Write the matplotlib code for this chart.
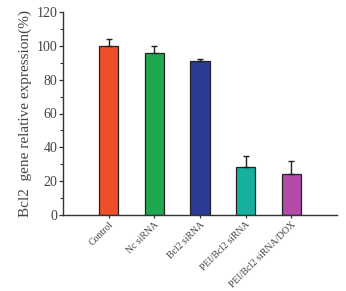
import matplotlib
matplotlib.use("Agg")
import matplotlib.pyplot as plt
from matplotlib.ticker import MultipleLocator

categories = ["Control", "Nc siRNA", "Bcl2 siRNA", "PEI/Bcl2 siRNA", "PEI/Bcl2 siRNA/DOX"]
values = [100, 96, 91, 28.5, 24.3]
errors = [4, 4, 1.5, 6.5, 7.5]
colors = ["#EE4F2A", "#1FA84F", "#2B3A92", "#16AFA0", "#B24BA8"]
yticks = [0, 20, 40, 60, 80, 100, 120]

plt.rcParams['font.family'] = ['Liberation Serif', 'DejaVu Serif']

fig = plt.figure(figsize=(3.46, 2.91), dpi=100)
ax = fig.add_axes([63/346, 1 - 215/291, (337-63)/346, (215-12)/291])

pos = list(range(1, len(categories) + 1))
ax.bar(pos, values, width=0.42, color=colors, edgecolor="#222222", linewidth=0.9, zorder=2)
ax.errorbar(pos, values, yerr=[[0]*len(errors), errors], fmt="none", ecolor="#222222",
            elinewidth=1.0, capsize=2.5, capthick=1.0, zorder=3)

ax.set_xlim(0, 6)
ax.set_ylim(0, 120)
ax.set_yticks(yticks)
ax.yaxis.set_minor_locator(MultipleLocator(10))
ax.set_xticks(pos)
ax.set_xticklabels(categories, rotation=45, ha="right", rotation_mode="anchor", fontsize=7)
ax.tick_params(axis="y", labelsize=10, length=3, width=0.9, pad=1, colors="#333333", labelcolor="#444444")
ax.tick_params(axis="y", which="minor", length=2, width=0.8, colors="#333333")
ax.tick_params(axis="x", length=2.5, width=0.9, pad=1, colors="#333333", labelcolor="#444444")
for s in ["top", "right"]:
    ax.spines[s].set_visible(False)
for s in ["left", "bottom"]:
    ax.spines[s].set_linewidth(1.0)
    ax.spines[s].set_color("#333333")
ax.set_ylabel("Bcl2  gene relative expression(%)", fontsize=11, color="#444444", labelpad=3)

fig.savefig("out.png", dpi=100, facecolor="white")
